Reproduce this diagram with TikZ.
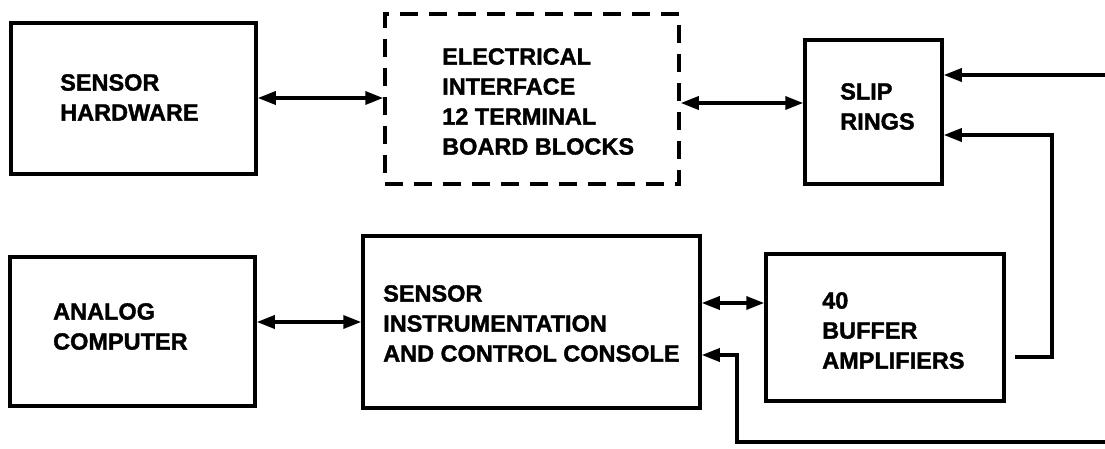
\documentclass[tikz,border=0pt]{standalone}
\usepackage{fontspec}
\setmainfont{Liberation Sans}[BoldFeatures={FakeBold=1.5}]
\usetikzlibrary{arrows.meta,calc}
\begin{document}
\begin{tikzpicture}[x=1pt,y=-1pt,
  box/.style={draw, line width=3.5pt, rectangle, inner sep=0pt},
  dbox/.style={box, dash pattern=on 18pt off 11pt},
  lbl/.style={anchor=north west, inner sep=0pt, align=left,
    font=\fontsize{23.5}{30}\selectfont\bfseries},
  conn/.style={line width=3.5pt},
  tip/.tip={Triangle[length=18pt,width=13pt]},
  arr/.style={conn, -tip},
  dbl/.style={conn, tip-tip}
]
\useasboundingbox (0,0) rectangle (1105,449);
\fill[white] (0,0) rectangle (1105,449);

% boxes
\node[box, minimum width=245pt, minimum height=151pt] (sh) at (133.5,98.5) {};
\node[dbox, minimum width=294pt, minimum height=170pt] (ei) at (532,99) {};
\node[box, minimum width=137pt, minimum height=144pt] (sr) at (873.5,112) {};
\node[box, minimum width=245pt, minimum height=149pt] (ac) at (132.5,331.5) {};
\node[box, minimum width=337pt, minimum height=172pt] (sic) at (531.5,322) {};
\node[box, minimum width=238pt, minimum height=147pt] (ba) at (885,327.5) {};

% labels
\node[lbl] (tsh) at (60,74) {SENSOR\\HARDWARE};
\node[lbl] (tei) at (442,48) {ELECTRICAL\\INTERFACE\\12 TERMINAL\\BOARD BLOCKS};
\node[lbl] (tsr) at (840,83) {SLIP\\RINGS};
\node[lbl] (tac) at (53,303) {ANALOG\\COMPUTER};
\node[lbl] (tsic) at (383,285) {SENSOR\\INSTRUMENTATION\\AND CONTROL CONSOLE};
\node[lbl] (tba) at (822,292) {40\\BUFFER\\AMPLIFIERS};

% free ends at the right border
\coordinate (inA) at (1105,75);
\coordinate (inB) at (1105,442);

% connectors
\draw[dbl] (sh.east |- 0,98) -- (ei.west |- 0,98);
\draw[dbl] (ei.east |- 0,103) -- (sr.west |- 0,103);
\draw[arr] (inA) -- (sr.east |- inA);
\draw[arr] ($(ba.east |- 0,357)+(9,0)$) -| (1052,135) -- (sr.east |- 0,135);
\draw[dbl] (ac.east |- 0,322) -- (sic.west |- 0,322);
\draw[dbl] (sic.east |- 0,303) -- (ba.west |- 0,303);
\draw[arr] (inB) -| (737,355) -- (sic.east |- 0,355);
\end{tikzpicture}
\end{document}
